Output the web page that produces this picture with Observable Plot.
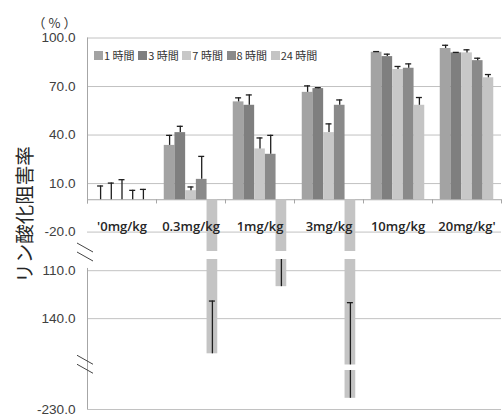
<!DOCTYPE html>
<html><head><meta charset="utf-8">
<script src="https://cdn.jsdelivr.net/npm/d3@7"></script>
<script src="https://cdn.jsdelivr.net/npm/@observablehq/plot@0.6"></script>
<style>
html,body{margin:0;padding:0;background:#fff;}
#wrap{position:relative;width:502px;height:416px;}
#legend{position:absolute;left:94px;top:48px;display:flex;align-items:center;font-family:"Noto Sans CJK JP";font-size:11px;color:#333;line-height:14px;white-space:nowrap;}
.item{display:flex;align-items:center;margin-right:3.6px;}
.sw{width:9px;height:9px;margin-right:1px;}
</style></head><body><div id="wrap"><div id="legend"></div></div>
<script>
const categories = ["'0mg/kg", "0.3mg/kg", "1mg/kg", "3mg/kg", "10mg/kg", "20mg/kg'"];
const series = ["1 時間", "3 時間", "7 時間", "8 時間", "24 時間"];
const colors = ["#a3a3a3", "#7f7f7f", "#c8c8c8", "#8a8a8a", "#c4c4c4"];
// values per series, across categories
const h1  = [0, 33.6, 60.5, 66.4, 91.2, 93.5];
const h3  = [0, 41.5, 58.4, 68.7, 88.5, 90.8];
const h7  = [0, 5.6, 31.4, 41.5, 80.5, 90.8];
const h8  = [0, 12.6, 28.1, 58.4, 81.3, 86.0];
const h24 = [0, -162, -120, -223, 58.4, 75.4];
// error bar lengths (drawn toward/above zero side)
const e1  = [8.5, 6.2, 2.5, 4.0, 0.4, 2.0];
const e3  = [10.3, 3.9, 6.4, 0.6, 1.5, 0.3];
const e7  = [12.4, 2.3, 6.8, 5.4, 1.9, 1.9];
const e8  = [5.8, 14.2, 11.7, 3.3, 2.7, 1.5];
const e24 = [6.4, 33, 30, 93, 4.8, 2.0];
const yTicks = [100, 70, 40, 10, -20, -110, -140, -230];
// broken axis: value breakpoints and the removed ranges
const yDomain = [100, -32, -103, -169, -205.6, -230];
const gaps = [[-32, -103], [-169, -205.6]];

const W = 502, H = 416, ML = 87, MR = 1, MT = 38, MB = 7;
const yRange = [37.5, 251, 259, 364.5, 370, 409];
const band = (W - ML - MR) / categories.length;
const barW = 10.7, capW = 6;

const vals = [h1, h3, h7, h8, h24];
const errs = [e1, e3, e7, e8, e24];
const rows = categories.flatMap((c, i) => series.map((s, k) => ({cat: c, series: s, k, value: vals[k][i], err: errs[k][i]})));

const marks = [];
marks.push(Plot.ruleY(yTicks, {stroke: "#c2c2c2", strokeWidth: 1}));
marks.push(Plot.ruleY([0], {stroke: "#a6a6a6", strokeWidth: 1}));
series.forEach((s, k) => {
  const d = rows.filter(r => r.k === k);
  const dx = (k - 2) * barW;
  marks.push(Plot.barY(d, {x: "cat", y: "value", fill: colors[k], insetLeft: (band - barW) / 2, insetRight: (band - barW) / 2, dx}));
});
series.forEach((s, k) => {
  const d = rows.filter(r => r.k === k);
  const dx = (k - 2) * barW;
  marks.push(Plot.ruleX(d, {x: "cat", y1: "value", y2: r => r.value + r.err, stroke: "#1e1e1e", strokeWidth: 1.3, dx}));
  marks.push(Plot.tickY(d, {x: "cat", y: r => r.value + r.err, stroke: "#1e1e1e", strokeWidth: 1.3, insetLeft: (band - capW) / 2, insetRight: (band - capW) / 2, dx}));
});
// white-out the broken ranges
marks.push(Plot.rect(gaps, {y1: d => d[0], y2: d => d[1], fill: "white"}));
// x-axis ticks at category boundaries
marks.push(Plot.ruleX(categories, {x: d => d, y1: 0, y2: -2.6, stroke: "#a6a6a6", dx: -band / 2}));
marks.push(Plot.ruleX([categories[categories.length - 1]], {x: d => d, y1: 0, y2: -2.6, stroke: "#a6a6a6", dx: band / 2}));
// left axis segments
marks.push(Plot.ruleX([categories[0]], {x: d => d, y1: 100, y2: -2.6, stroke: "#a6a6a6", dx: -band / 2}));
marks.push(Plot.ruleX([categories[0]], {x: d => d, y1: -108.6, y2: -230, stroke: "#a6a6a6", dx: -band / 2}));
// y tick labels
marks.push(Plot.text(yTicks, {y: d => d, text: d => (d < -100 && d > -200 ? -d : d).toFixed(1), frameAnchor: "left", textAnchor: "end", dx: -12, fill: "#404040", fontSize: 13.6}));
// category labels
marks.push(Plot.text(categories, {x: d => d, y: 0, dy: 27, text: d => d, fill: "#262626", fontSize: 13, fontWeight: 600, fontFamily: "Open Sans"}));
// unit & y title
const unitText = "（%）";
marks.push(Plot.text([unitText], {frameAnchor: "top-left", dx: -55, dy: -20, textAnchor: "start", text: d => d, fontFamily: "Noto Sans CJK SC", fontSize: 13, fill: "#333"}));
marks.push(Plot.text(["リン酸化阻害率"], {frameAnchor: "left", textAnchor: "middle", rotate: -90, dx: -62, dy: -9.5, text: d => d, fontFamily: "Noto Sans CJK JP", fontSize: 19.5, fill: "#262626"}));

const chart = Plot.plot({
  width: W, height: H,
  marginLeft: ML, marginRight: MR, marginTop: MT, marginBottom: MB,
  style: {fontFamily: "Liberation Sans", background: "white", overflow: "visible"},
  x: {domain: categories, padding: 0, axis: null},
  y: {type: "linear", domain: yDomain, range: yRange, axis: null},
  marks
});

const sy = chart.scale("y");
const svg = d3.select(chart);
svg.selectAll("text").filter(function() { return this.textContent === unitText; }).style("letter-spacing", "3px");
for (const [a, b] of gaps) {
  const c = (sy.apply(a) + sy.apply(b)) / 2;
  for (const off of [-9, 0]) {
    svg.append("line").attr("x1", ML - 10).attr("y1", c + off - 3).attr("x2", ML + 6).attr("y2", c + off + 6)
      .attr("stroke", "#444").attr("stroke-width", 1);
  }
}
document.getElementById("wrap").prepend(chart);

const legend = document.getElementById("legend");
series.forEach((s, k) => {
  const it = document.createElement("div"); it.className = "item";
  const sw = document.createElement("div"); sw.className = "sw"; sw.style.background = colors[k];
  const t = document.createElement("span"); t.textContent = s;
  it.append(sw, t); legend.append(it);
});
</script></body></html>
